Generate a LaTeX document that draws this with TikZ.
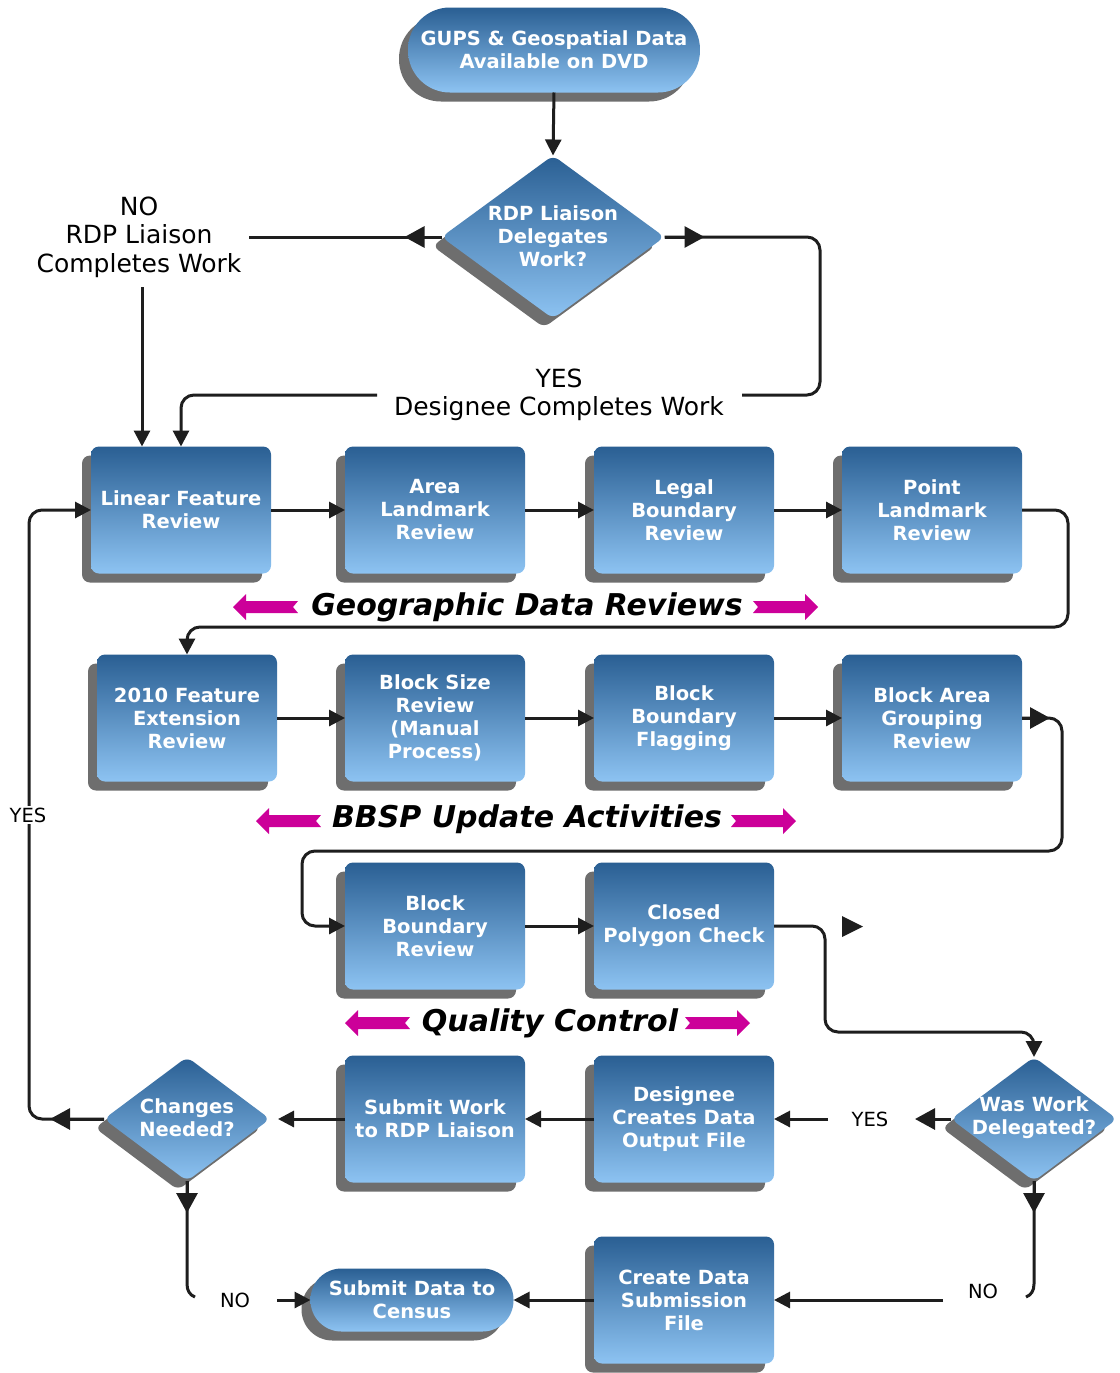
\documentclass[tikz,border=0pt]{standalone}
\usepackage{fontspec}
\setmainfont{DejaVu Sans}
\usetikzlibrary{shapes.geometric,shadows,arrows.meta}
\definecolor{topblue}{HTML}{2A5F93}
\definecolor{botblue}{HTML}{8DC3F2}
\definecolor{shadowgray}{HTML}{6E6E6E}
\definecolor{linec}{HTML}{1E1E1E}
\definecolor{magentac}{HTML}{CC0099}
\newcommand\BxFont{\fontsize{19.5}{23}\selectfont\bfseries}
\newcommand\LbFont{\fontsize{25}{28.5}\selectfont}
\newcommand\SmFont{\fontsize{19.5}{23}\selectfont}
\newcommand\TtFont{\fontsize{30}{34}\selectfont\bfseries\itshape}
\begin{document}
\begin{tikzpicture}[x=1pt,y=-1pt,
  blueshade/.style={top color=topblue, bottom color=botblue, draw=none,
    general shadow={shadow xshift=-9pt, shadow yshift=-9pt, fill=shadowgray}},
  procbox/.style={blueshade, rectangle, rounded corners=8pt, minimum width=180pt,
    minimum height=127pt, inner sep=0pt, outer sep=0pt, text=white, font=\BxFont, align=center},
  termbox/.style={blueshade, rectangle, inner sep=0pt, outer sep=0pt, text=white,
    font=\BxFont, align=center},
  decbox/.style={blueshade, diamond, rounded corners=7pt, inner sep=0pt, outer sep=0pt},
  dectext/.style={text=white, font=\BxFont, align=center, inner sep=0pt},
  lblbig/.style={font=\LbFont, align=center, inner sep=2pt},
  lblsmall/.style={font=\SmFont, inner sep=2pt},
  ttl/.style={font=\TtFont, inner sep=0pt},
  conn/.style={draw=linec, line width=3pt, rounded corners=13pt},
  plainconn/.style={draw=linec, line width=3pt},
  arrowA/.style={-{Triangle[length=16pt,width=16pt]}},
  arrowB/.style={-{Triangle[length=20pt,width=21pt]}},
  magL/.pic={\fill[magentac] (0,0) -- (13,-13) -- (13,-6) -- (65,-6) -- (60,0) -- (65,6) -- (13,6) -- (13,13) -- cycle;},
  magR/.pic={\fill[magentac] (0,0) -- (-13,-13) -- (-13,-6) -- (-65,-6) -- (-60,0) -- (-65,6) -- (-13,6) -- (-13,13) -- cycle;}
]
\useasboundingbox (0,0) rectangle (1119,1373);
\fill[white] (0,0) rectangle (1119,1373);

% start and first decision
\node[termbox, minimum width=292pt, minimum height=85pt, rounded corners=42pt] (start) at (554,50) {GUPS \& Geospatial Data\\Available on DVD};
\node[decbox, minimum width=223pt, minimum height=163pt] (d1) at (553,237) {};
\node[dectext] (d1t) at (553,236) {RDP Liaison\\Delegates\\Work?};
\node[lblbig] (noT) at (139,237) {NO\\RDP Liaison\\Completes Work};
\node[lblbig] (yesT) at (559,395) {YES\\Designee Completes Work};
\coordinate (noR) at (249,237);
\coordinate (noB) at (142,287);
\coordinate (yesR) at (742,395);
\coordinate (yesL) at (377,395);

% row 1
\node[procbox] (lfr) at (181,510) {Linear Feature\\Review};
\node[procbox] (alr) at (435,510) {Area\\Landmark\\Review};
\node[procbox] (lbr) at (684,510) {Legal\\Boundary\\Review};
\node[procbox] (plr) at (932,510) {Point\\Landmark\\Review};
% row 2
\node[procbox] (fer) at (187,718) {2010 Feature\\Extension\\Review};
\node[procbox] (bsr) at (435,718) {Block Size\\Review\\(Manual\\Process)};
\node[procbox] (bbf) at (684,718) {Block\\Boundary\\Flagging};
\node[procbox] (bag) at (932,718) {Block Area\\Grouping\\Review};
% row 3
\node[procbox] (bbr) at (435,926) {Block\\Boundary\\Review};
\node[procbox] (cpc) at (684,926) {Closed\\Polygon Check};
% row 4
\node[decbox, minimum width=166pt, minimum height=124pt] (chg) at (187,1119) {};
\node[dectext] (chgt) at (187,1118) {Changes\\Needed?};
\node[procbox] (sw) at (435,1119) {Submit Work\\to RDP Liaison};
\node[procbox] (dco) at (684,1119) {Designee\\Creates Data\\Output File};
\node[decbox, minimum width=166pt, minimum height=124pt] (wwd) at (1034,1119) {};
\node[dectext] (wwdt) at (1034,1118) {Was Work\\Delegated?};
\node[lblsmall] (yes2) at (870,1119) {YES};
\coordinate (yes2L) at (828,1119);
% row 5
\node[procbox] (cds) at (684,1300) {Create Data\\Submission\\File};
\node[termbox, minimum width=203pt, minimum height=63pt, rounded corners=31pt] (sdc) at (412,1300) {Submit Data to\\Census};
\node[lblsmall] (no1) at (235,1300) {NO};
\node[lblsmall] (no2) at (983,1291) {NO};
\coordinate (no1R) at (277,1300);
\coordinate (no2L) at (943,1300);
\coordinate (no1C) at (195,1297);
\coordinate (no2C) at (1026,1297);

% titles
\node[ttl] (t1) at (527,607) {Geographic Data Reviews};
\node[ttl] (t2) at (527,819) {BBSP Update Activities};
\node[ttl] (t3) at (550,1023) {Quality Control};
\pic at (233,607) {magL};
\pic at (818,607) {magR};
\pic at (256,821) {magL};
\pic at (796,821) {magR};
\pic at (345,1023) {magL};
\pic at (750,1023) {magR};

% connectors top
\draw[conn, arrowA] (start.south) -- (d1.north);
\draw[conn] (d1.west) -- (noR);
\draw[conn, arrowB] (d1.west) -- ++(-37,0);
\draw[conn] (d1.east) -- (820,237) -- (820,395) -- (yesR);
\draw[conn, arrowB] (d1.east) -- ++(40,0);
\draw[conn, arrowA] (yesL) -- (181,395) -- (lfr.north);
\draw[conn, arrowA] (noB) -- (noB |- lfr.north);

% row 1 connectors
\draw[conn, arrowA] (lfr.east) -- (alr.west);
\draw[conn, arrowA] (alr.east) -- (lbr.west);
\draw[conn, arrowA] (lbr.east) -- (plr.west);
\draw[conn, arrowA] (plr.east) -- (1068,510) -- (1068,627) -- (187,627) -- (fer.north);

% row 2 connectors
\draw[conn, arrowA] (fer.east) -- (bsr.west);
\draw[conn, arrowA] (bsr.east) -- (bbf.west);
\draw[conn, arrowA] (bbf.east) -- (bag.west);
\draw[conn, arrowA] (bag.east) -- (1062,718) -- (1062,851) -- (302,851) -- (302,926) -- (bbr.west);
\draw[conn, arrowB] (bag.east) -- ++(28,0);

% row 3 connectors
\draw[conn, arrowA] (bbr.east) -- (cpc.west);
\draw[conn, arrowA] (cpc.east) -- (825,926) -- (825,1032) -- (1034,1032) -- (wwd.north);
\fill[linec] (842,916) -- (863,926.5) -- (842,937) -- cycle;

% row 4 connectors
\draw[conn, arrowB] (wwd.west) -- (915,1119);
\draw[conn, arrowA] (yes2L) -- (dco.east);
\draw[conn, arrowA] (dco.west) -- (sw.east);
\draw[conn, arrowA] (sw.west) -- ([xshift=8pt]chg.east);
\draw[conn, arrowB] (chg.west) -- (50,1119);
\draw[conn, arrowA] (chg.west) -- (29,1119) -- (29,510) -- (lfr.west);
\node[lblsmall, fill=white] (yes1) at (28,815) {YES};

% row 5 connectors
\draw[conn, arrowB] (chg.south) -- ++(0,32);
\draw[plainconn] (chg.south) -- (187,1284) .. controls (187,1291) and (190,1295) .. (no1C);
\draw[conn, arrowA] (no1R) -- (sdc.west);
\draw[conn, arrowB] (wwd.south) -- ++(0,32);
\draw[plainconn] (wwd.south) -- (1034,1284) .. controls (1034,1291) and (1031,1295) .. (no2C);
\draw[conn, arrowA] (no2L) -- (cds.east);
\draw[conn, arrowA] (cds.west) -- (sdc.east);
\end{tikzpicture}
\end{document}
